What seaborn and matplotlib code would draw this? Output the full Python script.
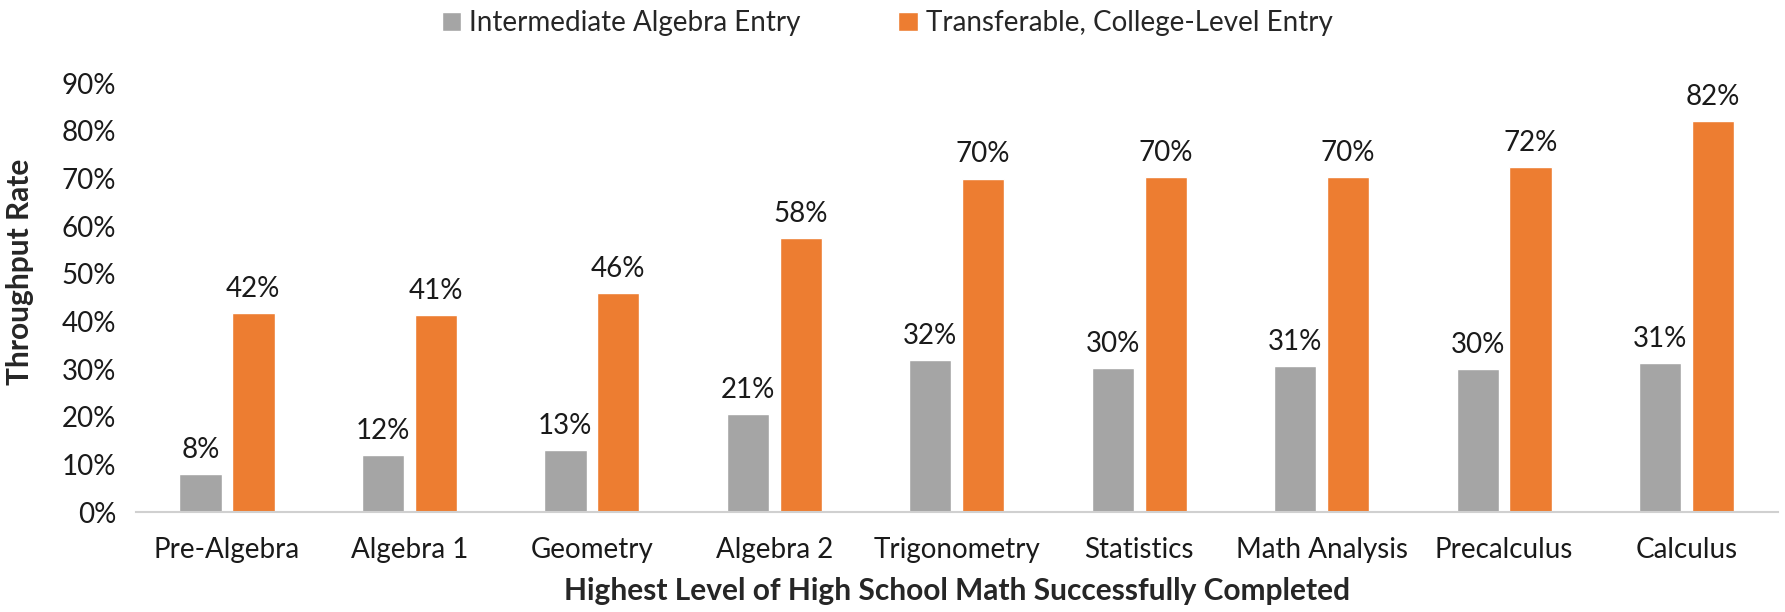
import pandas as pd
import numpy as np
import matplotlib
matplotlib.use("Agg")
import matplotlib.pyplot as plt
import seaborn as sns

# data
courses = ["Pre-Algebra", "Algebra 1", "Geometry", "Algebra 2", "Trigonometry",
           "Statistics", "Math Analysis", "Precalculus", "Calculus"]
intermediate = [8.1, 12.0, 13.0, 20.6, 32.0, 30.3, 30.6, 30.0, 31.3]
transferable = [41.8, 41.4, 46.0, 57.6, 70.0, 70.4, 70.4, 72.4, 82.0]
series_names = ["Intermediate Algebra Entry", "Transferable, College-Level Entry"]
y_ticks = [0, 10, 20, 30, 40, 50, 60, 70, 80, 90]

df = pd.DataFrame({
    "Course": courses * 2,
    "Series": [series_names[0]] * len(courses) + [series_names[1]] * len(courses),
    "Rate": intermediate + transferable,
})

sns.set_style("white")
plt.rcParams['font.family'] = ['Lato', 'DejaVu Sans']

fig = plt.figure(figsize=(17.85, 6.12), dpi=100)
ax = fig.add_axes([0.076, 0.163, 0.92, 0.701])

sns.barplot(data=df, x="Course", y="Rate", hue="Series", order=courses,
            hue_order=series_names, palette=["#A5A5A5", "#ED7D31"],
            saturation=1, width=0.58, gap=0.2, ax=ax, legend=True)

for cont in ax.containers:
    ax.bar_label(cont, fmt="%.0f%%", padding=8, fontsize=20, color="#1a1a1a")

ax.set_ylim(0, 90)
ax.set_xlim(-0.5, len(courses) - 0.5)
ax.set_yticks(y_ticks)
ax.set_yticklabels([f"{t}%" for t in y_ticks])
ax.tick_params(axis="both", length=0, labelsize=20, colors="#1a1a1a")
ax.tick_params(axis="x", pad=18)
ax.tick_params(axis="y", pad=14)

for s in ["top", "right", "left"]:
    ax.spines[s].set_visible(False)
ax.spines["bottom"].set_color("#D0D0D0")
ax.spines["bottom"].set_linewidth(1.5)

ax.set_ylabel("Throughput Rate", fontsize=21.5, fontweight="bold")
ax.yaxis.set_label_coords(-0.062, 0.56)
ax.set_xlabel("Highest Level of High School Math Successfully Completed",
              fontsize=21.5, fontweight="bold", labelpad=10)

# legend on top of the figure
handles, labels = ax.get_legend_handles_labels()
ax.get_legend().remove()
fig.legend(handles, labels, loc="center", bbox_to_anchor=(0.497, 0.962), ncol=2,
           frameon=False, fontsize=20, handlelength=0.7, handleheight=0.7,
           handletextpad=0.3, columnspacing=3.5)

fig.savefig("out.png", dpi=100)
